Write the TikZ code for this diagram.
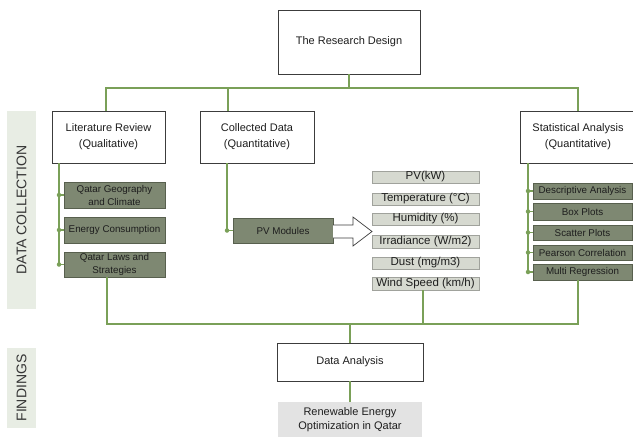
\documentclass[tikz,border=0pt]{standalone}
\usepackage{fontspec}
\setmainfont{Liberation Sans}
\definecolor{gline}{RGB}{122,160,88}
\definecolor{dfill}{RGB}{126,136,114}
\definecolor{dborder}{RGB}{88,96,78}
\definecolor{pfill}{RGB}{214,217,208}
\definecolor{pborder}{RGB}{160,162,156}
\definecolor{bandfill}{RGB}{232,237,228}
\definecolor{boxline}{RGB}{60,60,60}
\definecolor{txt}{RGB}{30,30,30}
\tikzset{
  wbox/.style={draw=boxline, fill=white, line width=0.8pt, align=center, inner sep=0pt, text=txt, font=\fontsize{11}{16}\selectfont},
  dbox/.style={draw=dborder, fill=dfill, line width=0.6pt, align=center, inner sep=0pt, text=txt, font=\fontsize{9.8}{13}\selectfont},
  pbox/.style={draw=pborder, fill=pfill, line width=0.6pt, align=center, inner sep=0pt, text=txt, font=\fontsize{11.5}{13}\selectfont},
  band/.style={fill=bandfill, inner sep=0pt},
  bandtext/.style={rotate=90, text=txt!90, font=\fontsize{14}{16}\selectfont},
  conn/.style={draw=gline, line width=1.2pt},
  gdot/.style={circle, fill=gline, inner sep=0pt, minimum size=4.5pt},
}
\begin{document}
\begin{tikzpicture}[x=1pt, y=-1pt]
\useasboundingbox (0,0) rectangle (633,437);
\clip (0,0) rectangle (633,437);
% bands
\node[band, minimum width=29pt, minimum height=198pt] (bdc) at (21.5,210) {};
\node[bandtext] (tdc) at (21.5,210) {DATA COLLECTION};
\node[band, minimum width=29pt, minimum height=80pt] (bfi) at (21.5,388) {};
\node[bandtext] (tfi) at (21.5,388) {FINDINGS};
% main boxes
\node[wbox, minimum width=142pt, minimum height=64pt] (rd) at (349,42) {The Research Design};
\node[wbox, minimum width=113pt, minimum height=52pt] (lit) at (108.5,137) {Literature Review\\(Qualitative)};
\node[wbox, minimum width=114pt, minimum height=52pt] (col) at (257,137) {Collected Data\\(Quantitative)};
\node[wbox, minimum width=116pt, minimum height=52pt] (stat) at (578,137) {Statistical Analysis\\(Quantitative)};
% top connectors
\coordinate (tj) at (349,88);
\draw[conn] (rd.south) -- (tj);
\draw[conn] (lit.north -| 106,0) |- (tj) -| (stat.north);
\draw[conn] (col.north -| 228,0) -- (228,88);
% literature sub boxes
\node[dbox, minimum width=101pt, minimum height=26pt] (geo) at (114.5,195) {Qatar Geography\\and Climate};
\node[dbox, minimum width=101pt, minimum height=26pt] (en) at (114.5,230) {Energy Consumption};
\node[dbox, minimum width=101pt, minimum height=25pt] (law) at (114.5,264.5) {Qatar Laws and\\Strategies};
\draw[conn] (lit.south -| 59,0) -- (59,264.5);
\foreach \n in {geo,en,law}{
  \draw[conn] (\n.west -| 59,0) -- (\n.west);
  \node[gdot] at (\n.west -| 59,0) {};
}
% collected data
\node[dbox, minimum width=100pt, minimum height=25pt] (pv) at (283,230.5) {PV Modules};
\draw[conn] (col.south -| 227,0) |- (pv.west);
\node[gdot] at (227,230.5) {};
\draw[draw=boxline, fill=white, line width=0.7pt] (333,225) -- (353,225) -- (353,217) -- (372,231.5) -- (353,246) -- (353,238) -- (333,238);
% parameters
\node[pbox, minimum width=107pt, minimum height=12pt] (pkw) at (425.5,177) {PV(kW)};
\node[pbox, minimum width=107pt, minimum height=12pt] (tmp) at (425.5,199) {Temperature (°C)};
\node[pbox, minimum width=107pt, minimum height=12pt] (hum) at (425.5,219) {Humidity (\%)};
\node[pbox, minimum width=107pt, minimum height=13pt] (irr) at (425.5,241.5) {Irradiance (W/m2)};
\node[pbox, minimum width=107pt, minimum height=12pt] (dust) at (425.5,263) {Dust (mg/m3)};
\node[pbox, minimum width=107pt, minimum height=13pt] (wind) at (425.5,283.5) {Wind Speed (km/h)};
% statistical sub boxes
\node[dbox, minimum width=99pt, minimum height=16pt] (desc) at (582.5,191) {Descriptive Analysis};
\node[dbox, minimum width=99pt, minimum height=17pt] (boxp) at (582.5,211.5) {Box Plots};
\node[dbox, minimum width=99pt, minimum height=15pt] (scat) at (582.5,232.5) {Scatter Plots};
\node[dbox, minimum width=99pt, minimum height=15pt] (pear) at (582.5,252.5) {Pearson Correlation};
\node[dbox, minimum width=99pt, minimum height=16pt] (mult) at (582.5,272) {Multi Regression};
\draw[conn] (stat.south -| 528,0) -- (528,272);
\foreach \n in {desc,boxp,scat,pear,mult}{
  \draw[conn] (\n.west -| 528,0) -- (\n.west);
  \node[gdot] at (\n.west -| 528,0) {};
}
% findings
\node[wbox, minimum width=146pt, minimum height=38pt] (da) at (350,362) {Data Analysis};
\node[fill=black!11, minimum width=144pt, minimum height=36pt, inner sep=0pt, align=center, text=txt, font=\fontsize{11}{14}\selectfont] (reo) at (350,420) {Renewable Energy\\Optimization in Qatar};
\coordinate (bj) at (350,324);
\draw[conn] (law.south -| 107,0) |- (bj) -| (mult.south -| 578,0);
\draw[conn] (wind.south -| 423,0) -- (423,324);
\draw[conn] (bj) -- (da.north);
\draw[conn] (da.south) -- (reo.north);
\end{tikzpicture}
\end{document}
